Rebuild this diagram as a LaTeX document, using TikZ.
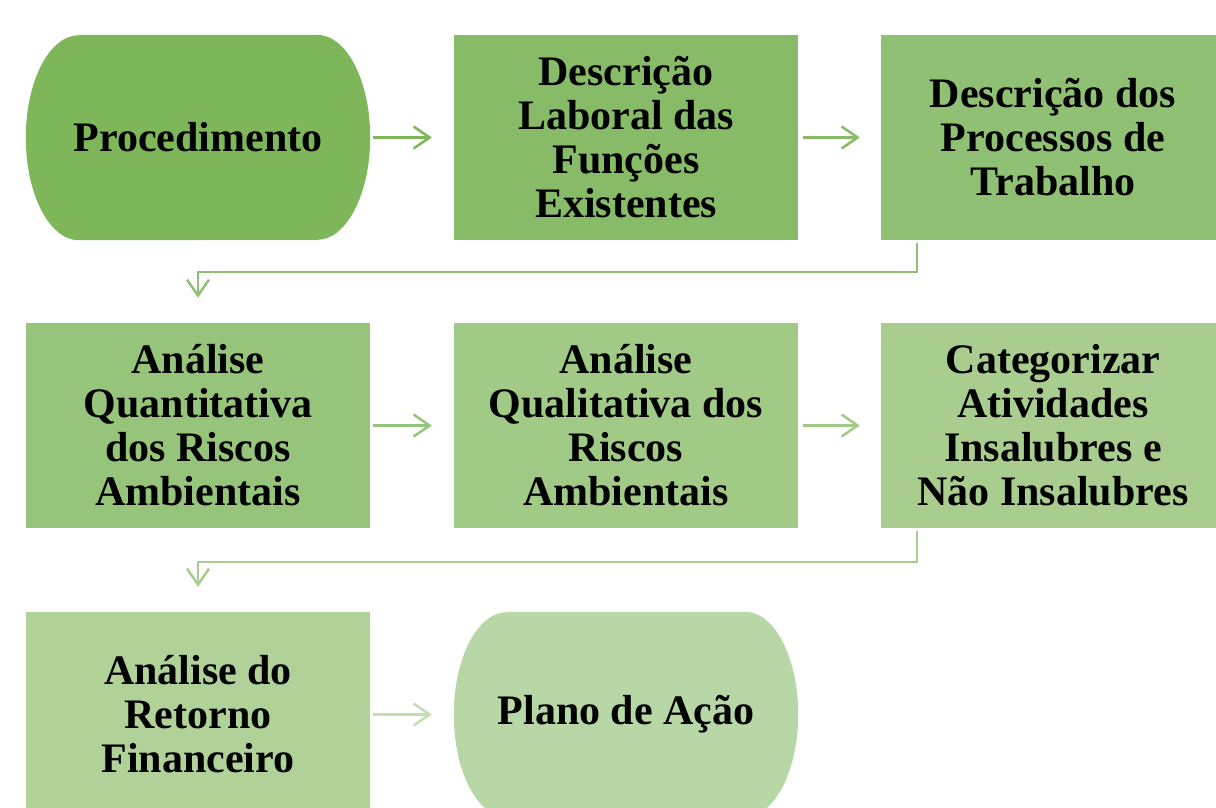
\documentclass[tikz,border=0pt]{standalone}
\usepackage{fontspec}
\setmainfont{Liberation Serif}
\usepackage{tikz}
\usetikzlibrary{arrows.meta}
\usetikzlibrary{backgrounds}

\definecolor{verdeA}{HTML}{7EB65A}
\definecolor{verdeB}{HTML}{87BB67}
\definecolor{verdeC}{HTML}{8FC073}
\definecolor{verdeD}{HTML}{97C47B}
\definecolor{verdeE}{HTML}{A0CA86}
\definecolor{verdeF}{HTML}{A8CD8F}
\definecolor{verdeG}{HTML}{B0D198}
\definecolor{verdeH}{HTML}{B8D7A6}

\tikzset{
  etapa/.style={rectangle,minimum width=344pt,minimum height=205pt,inner sep=0pt,
    align=center,font=\bfseries\fontsize{42}{44}\selectfont},
  seta/.style={line width=2.5pt,-{Straight Barb[length=16pt,width=22pt,line width=2.5pt]}},
}

\begin{document}
\begin{tikzpicture}[x=1pt,y=1pt]
\useasboundingbox (0,0) rectangle (1216,-807);

%primeira linha
\path (198,-137.5) node(proc) [etapa]{Procedimento};
\path (626,-137.5) node(desc) [etapa,fill=verdeB]{Descrição\\Laboral das\\Funções\\Existentes};
\path (1053,-137.5) node(proces) [etapa,fill=verdeC]{Descrição dos\\Processos de\\Trabalho};

%segunda linha
\path (198,-425.5) node(quant) [etapa,fill=verdeD]{Análise\\Quantitativa\\dos Riscos\\Ambientais};
\path (626,-425.5) node(qual) [etapa,fill=verdeE]{Análise\\Qualitativa dos\\Riscos\\Ambientais};
\path (1053,-425.5) node(categ) [etapa,fill=verdeF]{Categorizar\\Atividades\\Insalubres e\\Não Insalubres};

%terceira linha
\path (198,-714.5) node(retorno) [etapa,fill=verdeG]{Análise do\\Retorno\\Financeiro};
\path (626,-714.5) node(plano) [etapa]{Plano de Ação};

%formas terminais
\begin{scope}[on background layer]
\fill[verdeA] ([xshift=53pt]proc.north west) -- ([xshift=-53pt]proc.north east)
  arc[start angle=90,end angle=-90,x radius=53pt,y radius=102.5pt]
  -- ([xshift=53pt]proc.south west)
  arc[start angle=270,end angle=90,x radius=53pt,y radius=102.5pt] -- cycle;
\fill[verdeH] ([xshift=53pt]plano.north west) -- ([xshift=-53pt]plano.north east)
  arc[start angle=90,end angle=-90,x radius=53pt,y radius=102.5pt]
  -- ([xshift=53pt]plano.south west)
  arc[start angle=270,end angle=90,x radius=53pt,y radius=102.5pt] -- cycle;
\end{scope}

%setas
\draw[seta,color=verdeA,shorten <=3pt,shorten >=22pt] (proc) -- (desc);
\draw[seta,color=verdeB,shorten <=5pt,shorten >=21pt] (desc) -- (proces);
\draw[seta,color=verdeC,shorten <=3pt,line join=miter] ([xshift=36pt]proces.south west) -- ++(0,-32) -| ([yshift=25pt]quant.north);
\draw[seta,color=verdeD,shorten <=3pt,shorten >=22pt] (quant) -- (qual);
\draw[seta,color=verdeE,shorten <=5pt,shorten >=21pt] (qual) -- (categ);
\draw[seta,color=verdeF,shorten <=3pt,line join=miter] ([xshift=36pt]categ.south west) -- ++(0,-34) -| ([yshift=25pt]retorno.north);
\draw[seta,color=verdeH!85,shorten <=3pt,shorten >=22pt] (retorno) -- (plano);
\end{tikzpicture}
\end{document}
